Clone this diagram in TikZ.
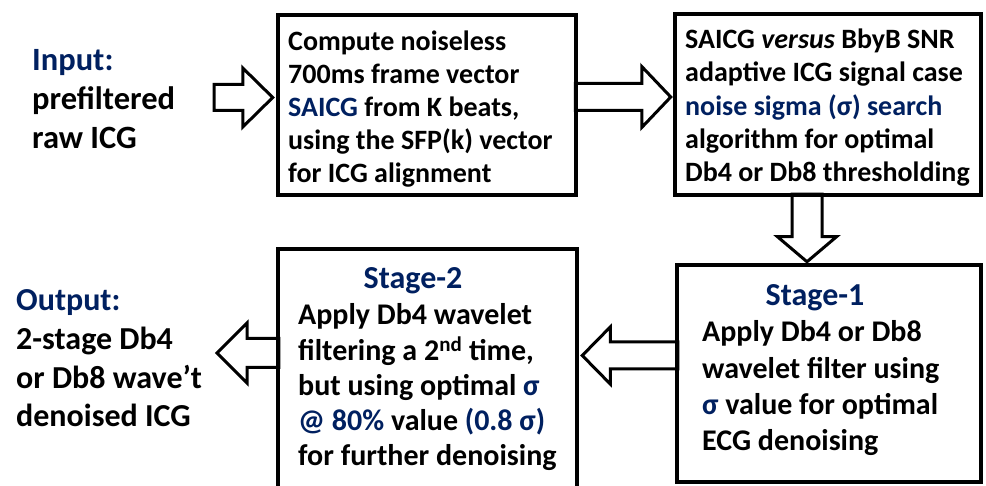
\documentclass[tikz,border=0pt]{standalone}
\usepackage{fontspec}
\setmainfont{Carlito}
\usetikzlibrary{calc}
\definecolor{dblue}{RGB}{0,32,96}
\newcommand\hl[1]{\textcolor{dblue}{#1}}
\newcommand\txtlines[3]{\fontsize{#1}{#2}\selectfont\bfseries\begin{tabular}[t]{@{}l@{}}#3\end{tabular}}
% horizontal block arrow: tail point, tip point, shaft half, head half, head length (signed)
\newcommand\harrow[5]{\draw[barrow] let \p1=(#1),\p2=(#2),\n1={\x2-(#5)} in
  (\x1,\y2+#3) -- (\n1,\y2+#3) -- (\n1,\y2+#4) -- (\x2,\y2) --
  (\n1,\y2-#4) -- (\n1,\y2-#3) -- (\x1,\y2-#3) -- cycle;}
% vertical (downward) block arrow
\newcommand\varrow[5]{\draw[barrow] let \p1=(#1),\p2=(#2) in
  (\x2-#3,\y1) -- (\x2-#3,\y2+#5) -- (\x2-#4,\y2+#5) -- (\x2,\y2) --
  (\x2+#4,\y2+#5) -- (\x2+#3,\y2+#5) -- (\x2+#3,\y1) -- cycle;}
\tikzset{
  box/.style={draw, line width=4.5pt, inner sep=0pt},
  barrow/.style={draw, line width=3pt, line join=miter},
  txt/.style={inner sep=0pt, anchor=base west},
  ttl/.style={inner sep=0pt, anchor=base, text=dblue, font=\fontsize{32}{38}\selectfont\bfseries},
}
\begin{document}
\begin{tikzpicture}[x=1pt,y=-1pt]
\useasboundingbox (0,0) rectangle (986,486);
\clip (0,0) rectangle (986,486);
\fill[white] (0,0) rectangle (986,486);
% boxes
\node[box, minimum width=298pt, minimum height=180pt] (b1) at (427,105) {};
\node[box, minimum width=306pt, minimum height=181pt] (b2) at (828,104.5) {};
\node[box, minimum width=304pt, minimum height=217pt] (s1) at (829,373.5) {};
\node[box, minimum width=299pt, minimum height=271pt] (s2) at (427.5,384.5) {};
% texts
\node[txt] (in) at (32,71) {\txtlines{32.5}{38.6}{\hl{Input:}\\prefiltered\\raw ICG}};
\node[txt] (b1t) at (288,50.5) {\txtlines{28}{33.1}{Compute noiseless\\700ms frame vector\\\hl{SAICG} from K beats,\\using the SFP(k) vector\\for ICG alignment}};
\node[txt] (b2t) at (685,48.5) {\txtlines{28}{33.3}{SAICG \textit{versus} BbyB SNR\\adaptive ICG signal case\\\hl{noise sigma (σ) search}\\algorithm for optimal\\Db4 or Db8 thresholding}};
\node[ttl] (s1ttl) at (815,306) {Stage-1};
\node[txt] (s1t) at (702,342) {\txtlines{30}{36.1}{Apply Db4 or Db8\\wavelet filter using\\\hl{σ} value for optimal\\ECG denoising}};
\node[ttl] (s2ttl) at (413,289) {Stage-2};
\node[txt] (s2t) at (298,325) {\txtlines{30}{35.2}{Apply Db4 wavelet\\filtering a 2\textsuperscript{nd} time,\\but using optimal \hl{σ}\\\hl{@ 80\%} value \hl{(0.8 σ)}\\for further denoising}};
\node[txt] (out) at (16,311) {\txtlines{32}{38.6}{\hl{Output:}\\2-stage Db4\\or Db8 wave’t\\denoised ICG}};
% arrows
\coordinate (inTail) at (214,97.5);
\coordinate (outTip) at (217,353);
\harrow{inTail}{$(b1.west |- inTail)+(-3,0)$}{13pt}{29.5pt}{30pt}
\harrow{$(b1.east)+(-3,0)$}{$(b2.west |- 0,97)+(-2,0)$}{13.5pt}{30.5pt}{29pt}
\varrow{$(b2.south)+(0,-3)$}{$(s1.north -| 807,0)+(0,-1)$}{15pt}{29.5pt}{25pt}
\harrow{$(s1.west |- 0,355.5)+(3,0)$}{$(s2.east |- 0,355.5)+(3,0)$}{13.5pt}{28.5pt}{-28pt}
\harrow{$(s2.west |- outTip)+(3,0)$}{outTip}{14.5pt}{30pt}{-30pt}
\end{tikzpicture}
\end{document}
